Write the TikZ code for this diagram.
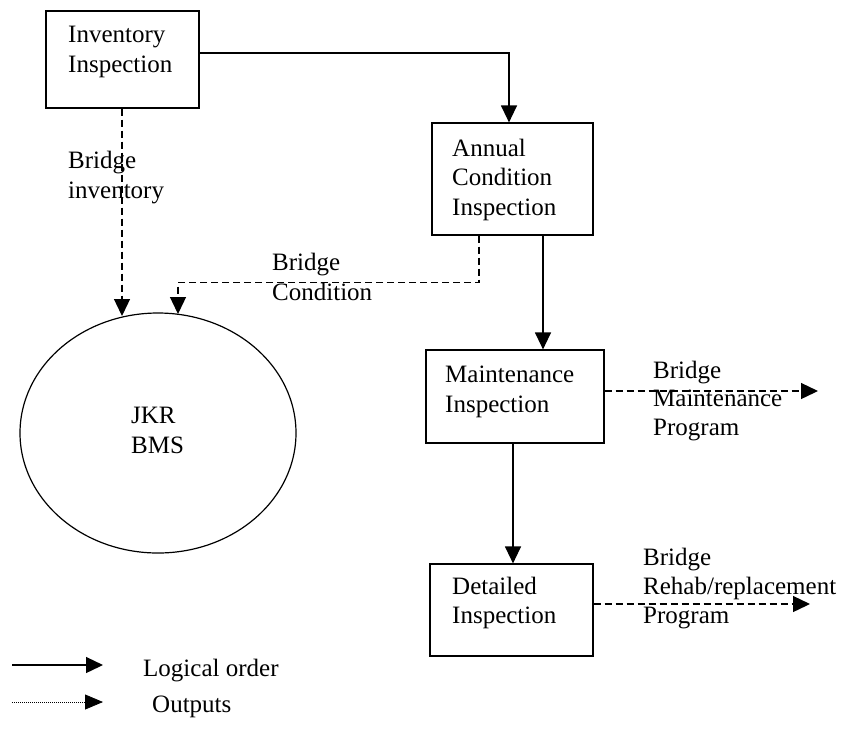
\documentclass[tikz,border=0pt]{standalone}
\usepackage{fontspec}
\setmainfont{Liberation Serif}
\usetikzlibrary{arrows.meta,shapes.geometric}
\begin{document}
\begin{tikzpicture}[x=1pt,y=-1pt,
  box/.style={draw,line width=1.2pt,rectangle,inner sep=0pt},
  txt/.style={font=\fontsize{25}{29.5}\selectfont,align=left,inner sep=0pt,anchor=base west},
  logic/.style={line width=1.3pt,-{Triangle[length=17pt,width=16pt]}},
  outdash/.style={line width=1.3pt,dash pattern=on 7pt off 4pt,-{Triangle[length=17pt,width=16pt]}},
  outdot/.style={line width=0.8pt,dash pattern=on 1pt off 1pt,-{Triangle[length=18pt,width=15pt]}}]
\useasboundingbox (0,0) rectangle (845,740);
% boxes
\node[box,minimum width=153pt,minimum height=97pt] (inv) at (122.5,59.5) {};
\node[box,minimum width=161pt,minimum height=112pt] (ann) at (512.5,179) {};
\node[box,minimum width=178pt,minimum height=93pt] (mnt) at (515,396.5) {};
\node[box,minimum width=163pt,minimum height=92pt] (det) at (511.5,610) {};
\node[draw,line width=1.2pt,ellipse,minimum width=276pt,minimum height=240pt,inner sep=0pt] (bms) at (158,433) {};
% box texts (anchored at baseline of last line)
\node[txt] (invt) at (68,72) {Inventory\\Inspection};
\node[txt] (annt) at (452,215) {Annual\\Condition\\Inspection};
\node[txt] (mntt) at (445,412) {Maintenance\\Inspection};
\node[txt,font=\fontsize{25}{28.5}\selectfont] (dett) at (452,623) {Detailed\\Inspection};
\node[txt] (bmst) at (131,453) {JKR\\BMS};
% labels
\node[txt] (l1) at (68,198) {Bridge\\inventory};
\node[txt] (l2) at (272,300) {Bridge\\Condition};
\node[txt,font=\fontsize{25}{28.5}\selectfont] (l3) at (653,435) {Bridge\\Maintenance\\Program};
\node[txt,font=\fontsize{25}{29}\selectfont] (l4) at (643,623) {Bridge\\Rehab/replacement\\Program};
% coordinates
\coordinate (b1) at (122,316);
\coordinate (b2) at (178,314);
\coordinate (o1) at (818,391);
\coordinate (o2) at (810,604);
% connectors
\draw[logic] ([yshift=6.5pt]inv.east) -| ([xshift=-3.5pt]ann.north);
\draw[outdash] ([xshift=-0.5pt]inv.south) -- (b1);
\draw[outdash] ([xshift=-33.5pt]ann.south) -- ++(0,47) -| (b2);
\draw[logic] ([xshift=30.5pt]ann.south) -- ([xshift=30.5pt]ann.south |- mnt.north);
\draw[logic] ([xshift=-2pt]mnt.south) -- ([xshift=-2pt]mnt.south |- det.north);
\draw[outdash] ([yshift=5.5pt]mnt.east) -- (o1);
\draw[outdash] ([yshift=6pt]det.east) -- (o2);
% legend
\coordinate (ls1) at (12,665);
\coordinate (le1) at (103,665);
\coordinate (ls2) at (12,702);
\coordinate (le2) at (103,702);
\draw[logic] (ls1) -- (le1);
\draw[outdot] (ls2) -- (le2);
\node[txt] (lg1) at (143,676) {Logical order};
\node[txt] (lg2) at (152,712) {Outputs};
\end{tikzpicture}
\end{document}
